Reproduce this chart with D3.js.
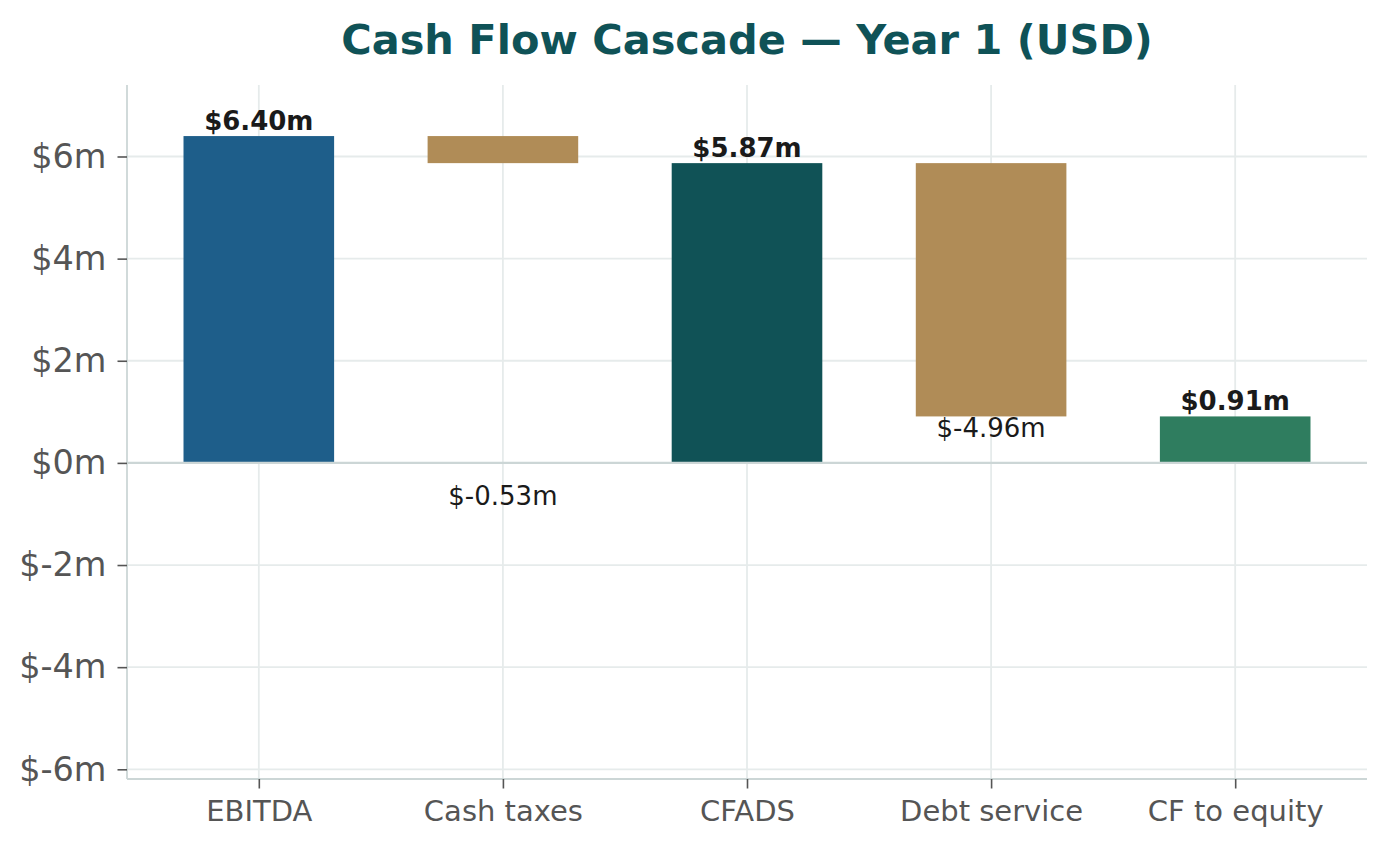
<!DOCTYPE html>
<html><head><meta charset="utf-8">
<script src="https://cdn.jsdelivr.net/npm/d3@7/dist/d3.min.js"></script>
<style>body{margin:0;background:#fff}svg{display:block}text{font-family:"DejaVu Sans",sans-serif}</style>
</head><body><svg id="c" width="1386" height="846"></svg>
<script>
// ---- data ----
const categories = ["EBITDA", "Cash taxes", "CFADS", "Debt service", "CF to equity"];
const kinds = ["total", "step", "total", "step", "total"];
const values = [6.40, -0.53, 5.87, -4.96, 0.91];
const yTicks = [-6, -4, -2, 0, 2, 4, 6];
const negLabelAnchor = [null, -0.42, null, 0.91, null]; // where the negative-step labels sit (USD m)
const colors = ["#1e5e8a", "#b08c57", "#105256", "#b08c57", "#2f7d5f"];
const title = "Cash Flow Cascade \u2014 Year 1 (USD)";

// ---- layout ----
const W = 1386, H = 846;
const m = {l:127, r:W-1367, t:85, b:H-779};
const svg = d3.select("#c");
const x = d3.scaleLinear().domain([-0.54, 4.54]).range([m.l, W-m.r]);
const y = d3.scaleLinear().domain([-6.19, 7.40]).range([H-m.b, m.t]);
const bw = 0.617;

// bars: compute bottoms/tops
let running = 0;
const bars = values.map((v,i)=>{
  let lo, hi;
  if (kinds[i]==="total"){ lo=Math.min(0,v); hi=Math.max(0,v); running=v; }
  else { const s=running, e=running+v; lo=Math.min(s,e); hi=Math.max(s,e); running=e; }
  return {i, v, lo, hi, kind:kinds[i]};
});

// grid
const g = svg.append("g");
g.selectAll(".gy").data(yTicks).join("line")
  .attr("x1",m.l).attr("x2",W-m.r).attr("y1",d=>y(d)).attr("y2",d=>y(d))
  .attr("stroke","#e6ebeb").attr("stroke-width",1.8);
g.selectAll(".gx").data(categories).join("line")
  .attr("x1",(d,i)=>x(i)).attr("x2",(d,i)=>x(i)).attr("y1",m.t).attr("y2",H-m.b)
  .attr("stroke","#e6ebeb").attr("stroke-width",1.8);

// bars
svg.selectAll(".bar").data(bars).join("rect")
  .attr("x",d=>x(d.i-bw/2)).attr("width",d=>x(d.i+bw/2)-x(d.i-bw/2))
  .attr("y",d=>y(d.hi)).attr("height",d=>y(d.lo)-y(d.hi))
  .attr("fill",(d,i)=>colors[i]);

// zero line
svg.append("line").attr("x1",m.l).attr("x2",W-m.r).attr("y1",y(0)).attr("y2",y(0))
  .attr("stroke","#ccd6d6").attr("stroke-width",2.4);

// axes
const yAxis = svg.append("g").attr("transform",`translate(${m.l},0)`)
  .call(d3.axisLeft(y).tickValues(yTicks).tickFormat(d=>`$${d}m`).tickSize(9.5).tickPadding(11));
const xAxis = svg.append("g").attr("transform",`translate(0,${H-m.b})`)
  .call(d3.axisBottom(x).tickValues(d3.range(categories.length)).tickFormat(i=>categories[i]).tickSize(9.5).tickPadding(8));
[yAxis,xAxis].forEach(a=>{
  a.select(".domain").attr("stroke","#ccd6d6").attr("stroke-width",1.8);
  a.selectAll(".tick line").attr("stroke","#555").attr("stroke-width",1.6);
  a.selectAll(".tick text").attr("fill","#555").style("font-family","DejaVu Sans");
});
yAxis.select(".domain").attr("d",`M0,${m.t}V${H-m.b}`);
xAxis.select(".domain").attr("d",`M${m.l},0H${W-m.r}`);
yAxis.selectAll(".tick text").style("font-size","33.5px");
xAxis.selectAll(".tick text").style("font-size","29px").attr("dy","0.85em");

// value labels
const fmt = v=>`$${v.toFixed(2)}m`;
svg.selectAll(".lbl").data(bars).join("text")
  .attr("x",d=>x(d.i))
  .attr("y",d=> d.v>=0 ? y(d.hi)-6 : y(negLabelAnchor[d.i]))
  .attr("dy",d=> d.v>=0 ? 0 : "0.78em")
  .attr("text-anchor","middle")
  .style("font-size","26px")
  .style("font-weight",d=>d.v>=0?"bold":"normal")
  .attr("fill","#1a1a1a")
  .text(d=>fmt(d.v));

// title
svg.append("text").attr("x",(m.l+W-m.r)/2).attr("y",54).attr("text-anchor","middle")
  .style("font-size","41.5px").style("font-weight","bold").attr("fill","#0f5257").text(title);
</script></body></html>
